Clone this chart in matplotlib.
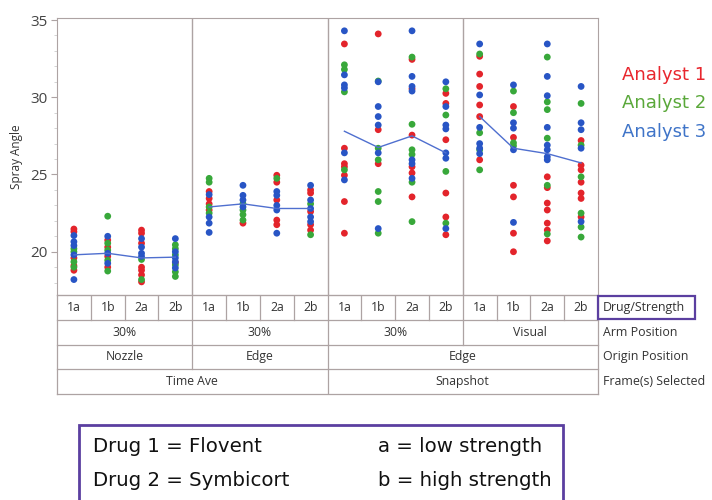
import matplotlib
matplotlib.use("Agg")
import matplotlib.pyplot as plt
import matplotlib.patches as mpatches
from matplotlib.ticker import MultipleLocator

# ---------------- data ----------------
groups = ["1a", "1b", "2a", "2b"] * 4
arm_position = ["30%", "30%", "30%", "Visual"]
origin_position = [("Nozzle", 0, 4), ("Edge", 4, 8), ("Edge", 8, 16)]
frames_selected = [("Time Ave", 0, 8), ("Snapshot", 8, 16)]
row_names = ["Drug/Strength", "Arm Position", "Origin Position", "Frame(s) Selected"]
analysts = ["Analyst 1", "Analyst 2", "Analyst 3"]

analyst1 = [
    [21.47, 21.3, 19.6, 19.1, 18.8],
    [20.75, 20.3, 19.7, 19.0],
    [21.4, 21.2, 20.55, 19.0, 18.8, 18.5, 18.05],
    [19.3],
    [23.9, 23.45, 23.1, 22.7],
    [21.85],
    [24.95, 24.5, 23.35, 22.05, 21.75],
    [24.0, 23.8, 22.6, 21.75, 21.4],
    [33.45, 26.7, 25.7, 25.5, 24.95, 23.25, 21.2],
    [34.1, 27.9, 25.7],
    [32.45, 30.55, 27.55, 25.5, 25.1, 23.55],
    [30.25, 29.6, 27.25, 23.8, 22.25, 21.1],
    [32.65, 31.5, 30.7, 29.5, 28.75, 25.95],
    [29.4, 27.4, 24.3, 23.55, 21.2, 20.0],
    [24.85, 24.15, 23.15, 22.7, 21.85, 21.4, 20.7],
    [27.2, 25.6, 25.3, 24.5, 23.8, 23.45, 22.25],
]
analyst2 = [
    [20.2, 20.0, 19.35, 19.0],
    [22.3, 20.55, 20.1, 19.45, 18.75],
    [19.5, 18.2],
    [20.45, 20.2, 19.8, 19.15, 18.7, 18.4],
    [24.75, 24.5, 22.9, 22.5],
    [23.1, 22.7, 22.4, 22.05],
    [24.75],
    [23.1, 21.1],
    [32.1, 31.8, 30.35, 25.3],
    [31.05, 26.7, 25.95, 23.9, 23.25, 21.2],
    [32.6, 28.25, 26.6, 26.3, 24.5, 21.95],
    [30.55, 28.85, 25.2, 21.85],
    [32.8, 27.7, 26.6, 25.3],
    [30.4, 29.0, 27.05, 26.85],
    [32.6, 29.7, 29.2, 27.35, 24.3, 21.15],
    [29.6, 26.9, 24.85, 22.5, 21.6, 20.95],
]
analyst3 = [
    [21.05, 20.65, 20.4, 19.8, 18.2],
    [21.0, 19.9, 19.25],
    [20.85, 20.3, 19.9, 19.7],
    [20.85, 20.0, 19.6, 19.35, 18.95],
    [23.7, 22.25, 21.85, 21.25],
    [24.3, 23.65, 23.35, 22.9],
    [23.9, 23.65, 23.0, 22.7, 21.2],
    [24.3, 23.35, 22.8, 22.25, 21.95],
    [34.3, 31.45, 30.8, 30.6, 26.4, 24.65],
    [31.0, 29.4, 28.75, 28.2, 26.4, 21.5],
    [34.3, 31.35, 30.7, 30.4, 25.95, 25.7, 24.75],
    [31.0, 29.4, 28.2, 27.95, 26.4, 26.05, 21.5],
    [33.45, 30.15, 28.05, 27.0, 26.7, 26.35],
    [30.8, 28.35, 28.0, 26.6, 21.9],
    [33.45, 31.35, 30.1, 28.05, 26.9, 26.6, 26.15, 25.95],
    [30.7, 28.35, 27.9, 26.7, 21.95],
]
group_means = [19.8, 19.9, 19.6, 19.65, 22.9, 23.1, 22.8, 22.8,
               27.8, 26.75, 27.5, 26.4, 28.75, 26.7, 26.35, 25.75]

# ---------------- style ----------------
FONT = ["Open Sans", "DejaVu Sans"]
plt.rcParams["font.family"] = FONT
point_colors = ["#E3242B", "#38A83A", "#2855C5"]
legend_colors = ["#E8262D", "#5AA83A", "#3F74C8"]
frame_col = "#ADA3A3"
text_col = "#333333"
purple = "#5B3FA0"

W, H = 712, 500
fig = plt.figure(figsize=(W / 100, H / 100), dpi=100)

def fx(px):
    return px / W

def fy(py):
    return 1 - py / H

L, R, T, B = 57, 598, 18, 295
ax = fig.add_axes([fx(L), fy(B), fx(R - L), fy(T) - fy(B)])
ax.set_xlim(0, 16)
ax.set_ylim(17.2, 35.13)

for series, col in zip([analyst1, analyst2, analyst3], point_colors):
    for i, vals in enumerate(series):
        ax.scatter([i + 0.5] * len(vals), vals, s=24, color=col,
                   edgecolors="none", zorder=3)

for p in range(4):
    xs = [p * 4 + k + 0.5 for k in range(4)]
    ax.plot(xs, group_means[p * 4:p * 4 + 4], color="#4F6FCF", lw=1.0, zorder=4)

for xv in [4, 8, 12]:
    ax.axvline(xv, color=frame_col, lw=1.0, zorder=1)

for s in ax.spines.values():
    s.set_color(frame_col)
ax.set_xticks([])
ax.yaxis.set_major_locator(MultipleLocator(5))
ax.yaxis.set_minor_locator(MultipleLocator(1))
ax.tick_params(axis="y", which="major", length=4, color=frame_col,
               labelsize=11, labelcolor="#444444", pad=3)
ax.tick_params(axis="y", which="minor", length=2, color="#cccccc")
ax.set_ylabel("Spray Angle", fontsize=8.5, color=text_col, labelpad=5)

# legend text
for k, (name, col) in enumerate(zip(analysts, legend_colors)):
    fig.text(fx(622), fy(75 + k * 28.5), name, color=col, fontsize=13,
             va="center", ha="left", family=["DejaVu Sans"])

# ---------------- table ----------------
TB = 394
tax = fig.add_axes([fx(L), fy(TB), fx(R - L), fy(B) - fy(TB)])
tax.set_xlim(0, 16)
tax.set_ylim(4, 0)
tax.axis("off")
lw = 0.9
for yv in [0, 1, 2, 3, 4]:
    tax.plot([0, 16], [yv, yv], color=frame_col, lw=lw, clip_on=False)
tax.plot([0, 0], [0, 4], color=frame_col, lw=lw, clip_on=False)
tax.plot([16, 16], [0, 4], color=frame_col, lw=lw, clip_on=False)
fs = 8.8
for i, g in enumerate(groups):
    if i > 0:
        tax.plot([i, i], [0, 1], color=frame_col, lw=lw)
    tax.text(i + 0.5, 0.5, g, ha="center", va="center", fontsize=fs, color=text_col)
for p, a in enumerate(arm_position):
    if p > 0:
        tax.plot([p * 4, p * 4], [1, 2], color=frame_col, lw=lw)
    tax.text(p * 4 + 2, 1.5, a, ha="center", va="center", fontsize=fs, color=text_col)
for name, a, b in origin_position:
    if a > 0:
        tax.plot([a, a], [2, 3], color=frame_col, lw=lw)
    tax.text((a + b) / 2, 2.5, name, ha="center", va="center", fontsize=fs, color=text_col)
for name, a, b in frames_selected:
    if a > 0:
        tax.plot([a, a], [3, 4], color=frame_col, lw=lw)
    tax.text((a + b) / 2, 3.5, name, ha="center", va="center", fontsize=fs, color=text_col)

row_h = (TB - B) / 4
for r, name in enumerate(row_names):
    fig.text(fx(603), fy(B + (r + 0.5) * row_h), name, ha="left", va="center",
             fontsize=8.9, color=text_col)
fig.patches.append(mpatches.Rectangle((fx(598), fy(319)), fx(97), fy(296) - fy(319),
                                      transform=fig.transFigure, fill=False,
                                      edgecolor=purple, lw=1.6))

# ---------------- bottom key box ----------------
fig.patches.append(mpatches.Rectangle((fx(79), fy(503)), fx(484), fy(425) - fy(503),
                                      transform=fig.transFigure, fill=False,
                                      edgecolor=purple, lw=2.0, clip_on=False))
key_fs = 14.2
fig.text(fx(93), fy(447), "Drug 1 = Flovent", fontsize=key_fs, va="center",
         ha="left", color="#111111", family=["DejaVu Sans"])
fig.text(fx(93), fy(481), "Drug 2 = Symbicort", fontsize=key_fs, va="center",
         ha="left", color="#111111", family=["DejaVu Sans"])
fig.text(fx(378), fy(447), "a = low strength", fontsize=key_fs, va="center",
         ha="left", color="#111111", family=["DejaVu Sans"])
fig.text(fx(378), fy(481), "b = high strength", fontsize=key_fs, va="center",
         ha="left", color="#111111", family=["DejaVu Sans"])

fig.savefig("out.png", dpi=100)
